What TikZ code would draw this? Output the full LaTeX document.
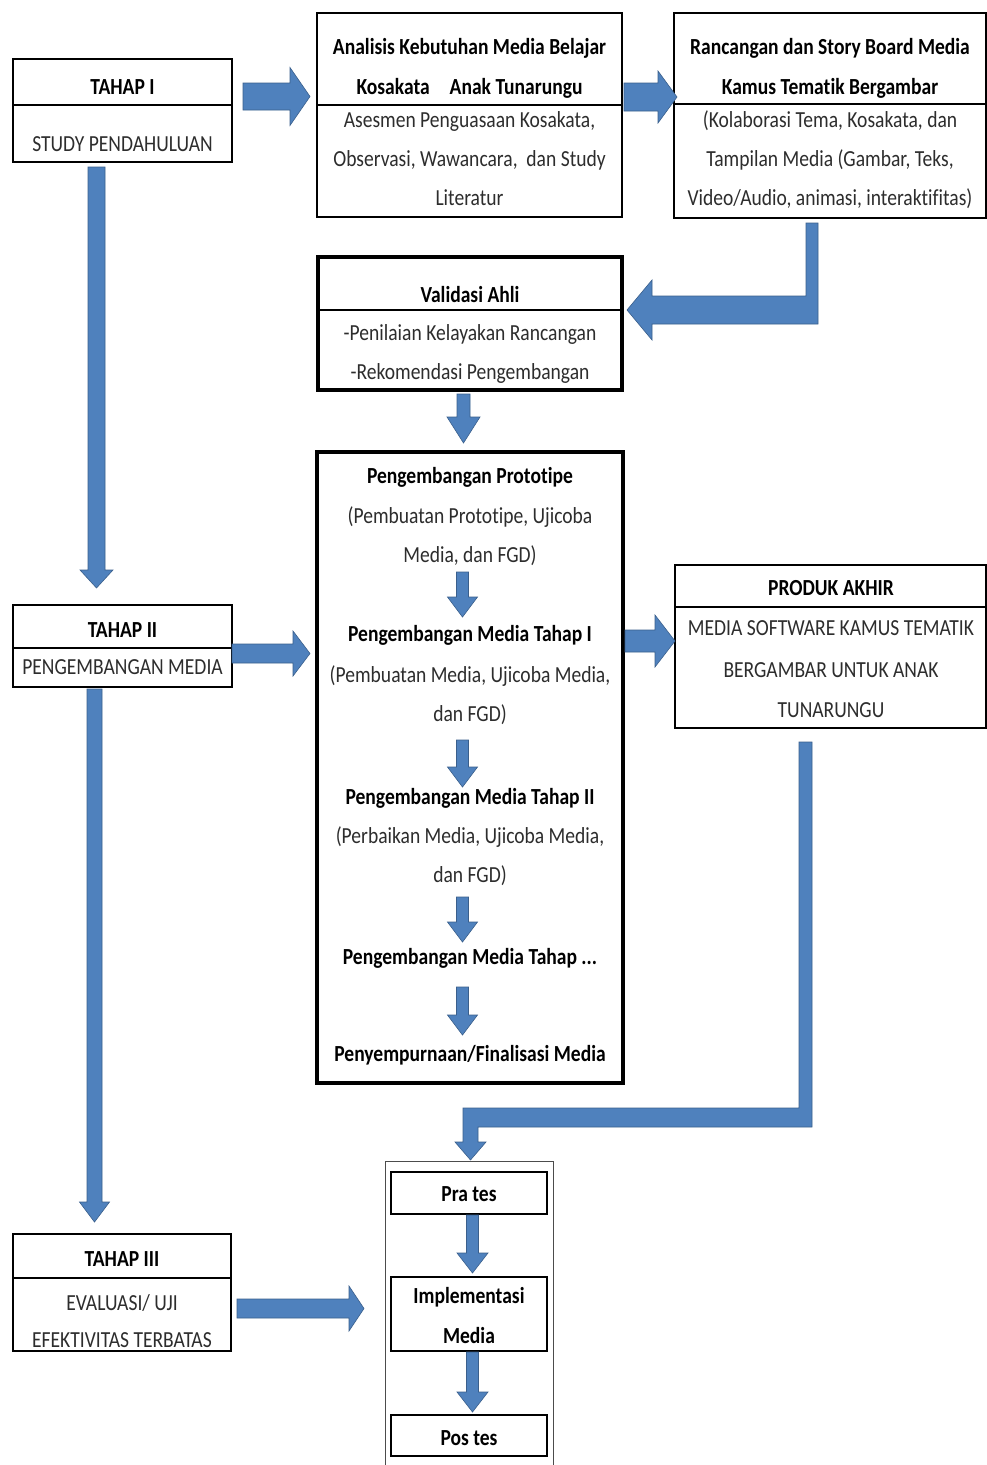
\documentclass[tikz,border=0pt]{standalone}
\usepackage{fontspec}
\setmainfont{Carlito}[FakeStretch=0.85,Ligatures=NoCommon]
\usetikzlibrary{calc}
\definecolor{ablue}{RGB}{79,129,189}
\definecolor{aedge}{RGB}{58,95,140}
\definecolor{bodytxt}{RGB}{45,45,45}
\tikzset{
 box/.style={draw=black, line width=2pt, fill=white},
 thickbox/.style={draw=black, line width=3.5pt, fill=white},
 smallbox/.style={draw=black, line width=2.5pt, fill=white},
 divider/.style={draw=black, line width=1.3pt},
 txt/.style={anchor=base, inner sep=0pt, font=\fontsize{23}{28}\selectfont, text=bodytxt},
 ttl/.style={anchor=base, inner sep=0pt, font=\fontsize{23}{28}\selectfont\bfseries, text=black},
 blk/.style={fill=ablue, draw=aedge, line width=0.6pt, line join=miter},
}
% box node: name, x1, y1, x2, y2, style
\newcommand\bx[6]{\node[#6, inner sep=0pt, minimum width={(#4)-(#2)}, minimum height={(#5)-(#3)}] (#1) at ({((#2)+(#4))/2},{((#3)+(#5))/2}) {};}
% horizontal block arrow: xstart, xtip, ycenter, shaft half, head half, head length (negative = pointing left)
\newcommand\rarr[6]{\draw[blk] ({#1},{(#3)-(#4)}) -- ({(#2)-(#6)},{(#3)-(#4)}) -- ({(#2)-(#6)},{(#3)-(#5)}) -- ({#2},{#3}) -- ({(#2)-(#6)},{(#3)+(#5)}) -- ({(#2)-(#6)},{(#3)+(#4)}) -- ({#1},{(#3)+(#4)}) -- cycle;}
% vertical block arrow: ystart, ytip, xcenter, shaft half, head half, head length
\newcommand\darr[6]{\draw[blk] ({(#3)-(#4)},{#1}) -- ({(#3)-(#4)},{(#2)-(#6)}) -- ({(#3)-(#5)},{(#2)-(#6)}) -- ({#3},{#2}) -- ({(#3)+(#5)},{(#2)-(#6)}) -- ({(#3)+(#4)},{(#2)-(#6)}) -- ({(#3)+(#4)},{#1}) -- cycle;}
\begin{document}
\begin{tikzpicture}[x=1pt,y=-1pt]
\useasboundingbox[fill=white] (0,0) rectangle (987,1465);

% ---------- boxes ----------
\bx{t1}{13}{59}{232}{162}{box}
\draw[divider] (t1.west |- 0,105) -- (t1.east |- 0,105);
\node[ttl] (t1a) at (122.5,94) {TAHAP I};
\node[txt] (t1b) at (122.5,151) {STUDY PENDAHULUAN};

\bx{ana}{317}{13}{622}{217}{box}
\draw[divider] (ana.west |- 0,105) -- (ana.east |- 0,105);
\node[ttl] (anaa) at (469.5,54) {Analisis Kebutuhan Media Belajar};
\node[ttl] (anab) at (469.5,94) {Kosakata\hspace{20pt}Anak Tunarungu};
\node[txt] (anac) at (469.5,127) {Asesmen Penguasaan Kosakata,};
\node[txt] (anad) at (469.5,166) {Observasi, Wawancara,~ dan Study};
\node[txt] (anae) at (469.5,205) {Literatur};

\bx{ran}{674}{13}{986}{218}{box}
\draw[divider] (ran.west |- 0,104) -- (ran.east |- 0,104);
\node[ttl] (rana) at (830,54) {Rancangan dan Story Board Media};
\node[ttl] (ranb) at (830,94) {Kamus Tematik Bergambar};
\node[txt] (ranc) at (830,127) {(Kolaborasi Tema, Kosakata, dan};
\node[txt] (rand) at (830,166) {Tampilan Media (Gambar, Teks,};
\node[txt] (rane) at (830,205) {Video/Audio, animasi, interaktifitas)};

\bx{val}{318}{257}{622}{390}{thickbox}
\draw[divider] (val.west |- 0,310) -- (val.east |- 0,310);
\node[ttl] (vala) at (470,302) {Validasi Ahli};
\node[txt] (valb) at (470,340) {-Penilaian Kelayakan Rancangan};
\node[txt] (valc) at (470,379) {-Rekomendasi Pengembangan};

\bx{big}{317}{452}{623}{1083}{thickbox}
\node[ttl] (bg1) at (470,483) {Pengembangan Prototipe};
\node[txt] (bg2) at (470,523) {(Pembuatan Prototipe, Ujicoba};
\node[txt] (bg3) at (470,562) {Media, dan FGD)};
\node[ttl] (bg4) at (470,641) {Pengembangan Media Tahap I};
\node[txt] (bg5) at (470,682) {(Pembuatan Media, Ujicoba Media,};
\node[txt] (bg6) at (470,721) {dan FGD)};
\node[ttl] (bg7) at (470,804) {Pengembangan Media Tahap II};
\node[txt] (bg8) at (470,843) {(Perbaikan Media, Ujicoba Media,};
\node[txt] (bg9) at (470,882) {dan FGD)};
\node[ttl] (bg10) at (470,964) {Pengembangan Media Tahap ...};
\node[ttl] (bg11) at (470,1061) {Penyempurnaan/Finalisasi Media};

\bx{t2}{13}{605}{232}{687}{box}
\draw[divider] (t2.west |- 0,648) -- (t2.east |- 0,648);
\node[ttl] (t2a) at (122.5,637) {TAHAP II};
\node[txt] (t2b) at (122.5,674) {PENGEMBANGAN MEDIA};

\bx{prod}{675}{565}{986}{728}{box}
\draw[divider] (prod.west |- 0,607) -- (prod.east |- 0,607);
\node[ttl] (proda) at (831,595) {PRODUK AKHIR};
\node[txt] (prodb) at (831,635) {MEDIA SOFTWARE KAMUS TEMATIK};
\node[txt] (prodc) at (831,677) {BERGAMBAR UNTUK ANAK};
\node[txt] (prodd) at (831,717) {TUNARUNGU};

\bx{t3}{13}{1234}{231}{1351}{box}
\draw[divider] (t3.west |- 0,1278) -- (t3.east |- 0,1278);
\node[ttl] (t3a) at (122,1266) {TAHAP III};
\node[txt] (t3b) at (122,1310) {EVALUASI/ UJI};
\node[txt] (t3c) at (122,1347) {EFEKTIVITAS TERBATAS};

% outer frame of evaluation steps (runs off the bottom)
\draw[draw=black!70, line width=1pt] (385,1475) -- (385,1161) -- (553,1161) -- (553,1475);
\bx{pra}{391}{1172}{547}{1214}{smallbox}
\node[ttl] (praa) at (469,1201) {Pra tes};
\bx{imp}{391}{1277}{547}{1351}{smallbox}
\node[ttl] (impa) at (469,1303) {Implementasi};
\node[ttl] (impb) at (469,1343) {Media};
\bx{pos}{391}{1415}{547}{1456}{smallbox}
\node[ttl] (posa) at (469,1445) {Pos tes};

% ---------- block arrows ----------
\rarr{243}{310}{96.5}{13.5}{29}{20}
\rarr{624}{677}{97}{14}{26}{19}
% elbow: Rancangan -> Validasi
\draw[blk] (806,223) -- (818,223) -- (818,324) -- (652,324) -- (652,340) -- (627,310) -- (652,280) -- (652,296) -- (806,296) -- cycle;
\darr{394}{443}{463.5}{6.5}{16.5}{26}
\darr{167}{588}{96.5}{8.5}{16.5}{18}
\rarr{232}{310}{653.5}{9.5}{22.5}{17}
\rarr{625}{675}{641}{11}{26}{20}
\darr{689}{1222}{94.5}{7.5}{15}{20}
\rarr{237}{364}{1308.5}{9.5}{22.5}{15}
% small arrows inside development box
\darr{572}{617}{462.5}{6}{15}{20}
\darr{740}{787}{462.5}{6}{15}{20}
\darr{897}{942}{462.5}{6}{15}{20}
\darr{987}{1035}{462.5}{6}{15}{20}
% elbow: Produk Akhir -> Pra tes
\draw[blk] (799,742) -- (812,742) -- (812,1127) -- (478,1127) -- (478,1142) -- (486,1142) -- (470.5,1160) -- (455,1142) -- (463,1142) -- (463,1108) -- (799,1108) -- cycle;
\darr{1215}{1273}{472.5}{6}{15.5}{20}
\darr{1352}{1412}{472.5}{6}{15.5}{20}
\end{tikzpicture}
\end{document}
